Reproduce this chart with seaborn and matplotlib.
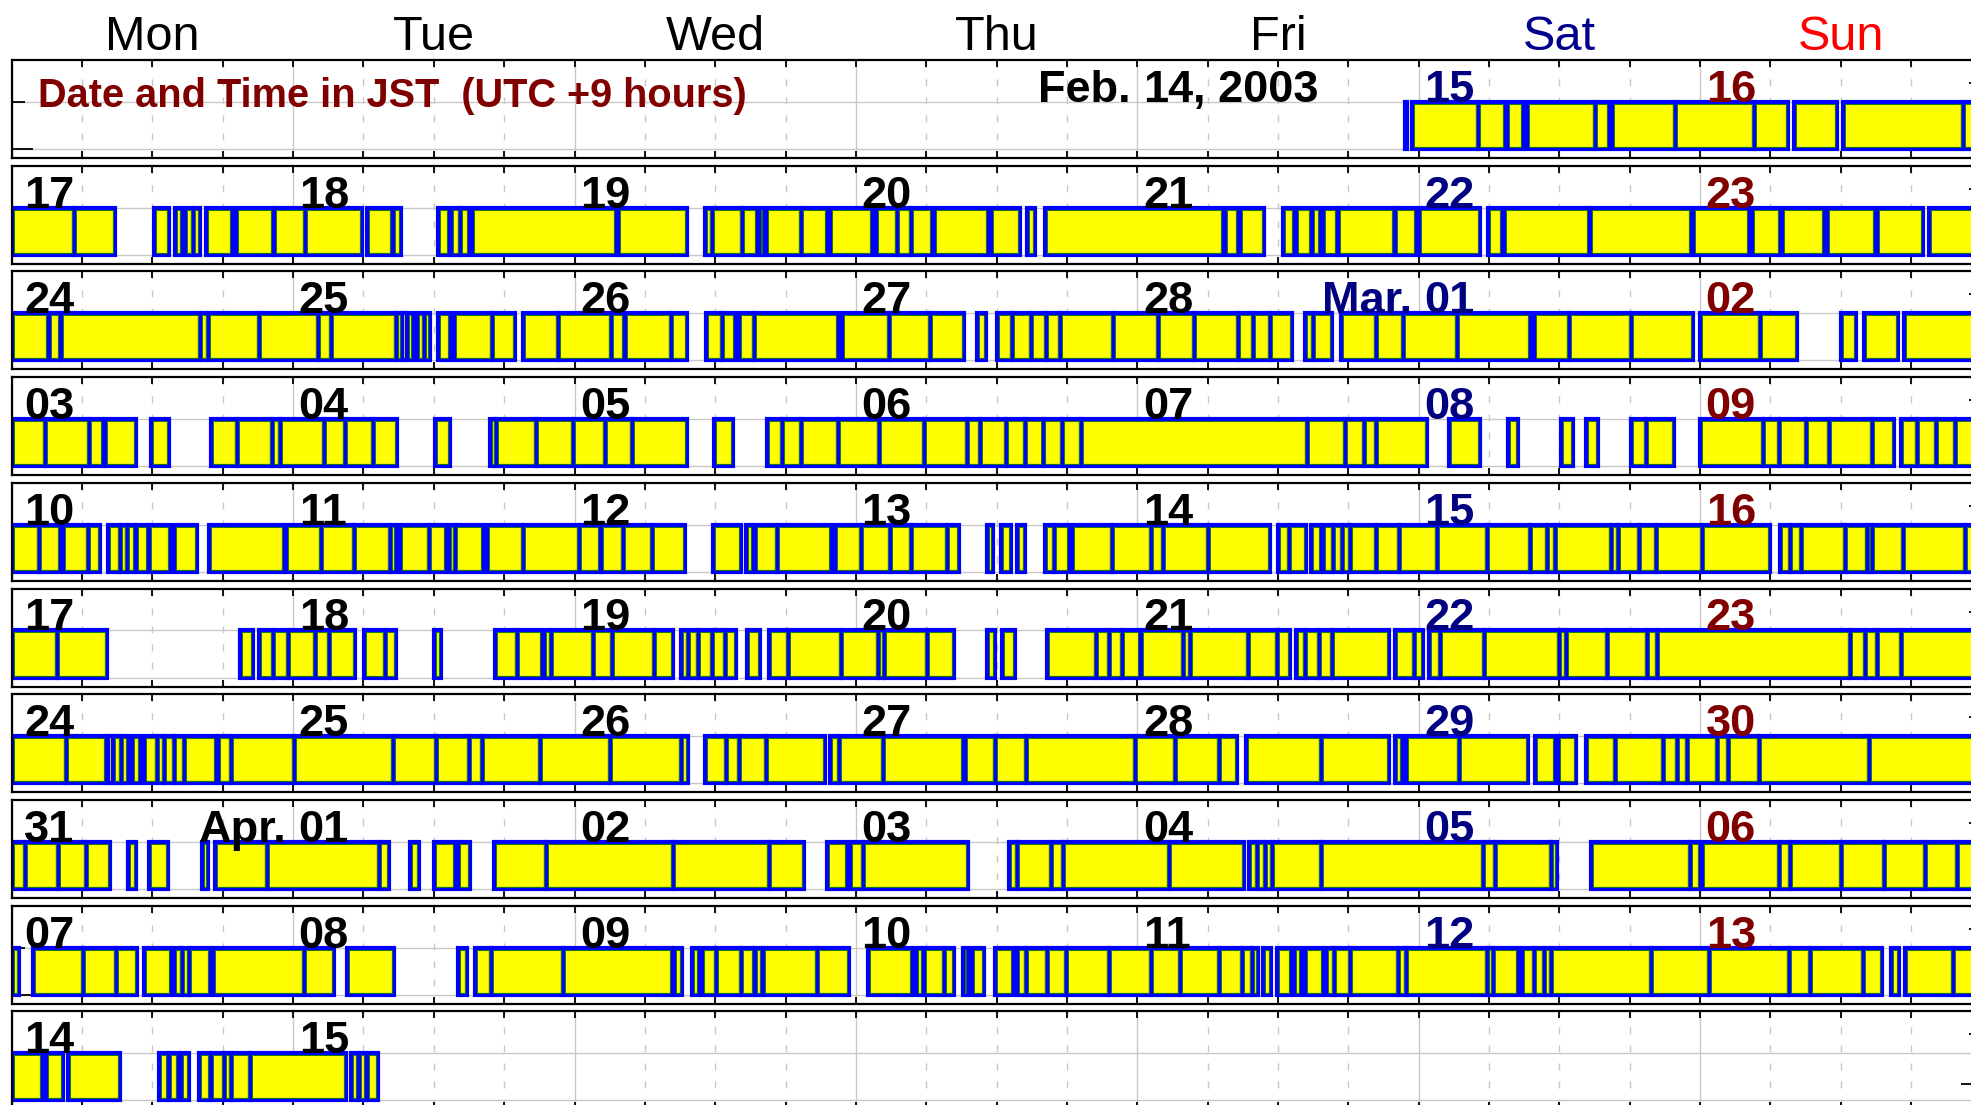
import numpy as np
import pandas as pd
import matplotlib
matplotlib.use("Agg")
import matplotlib.pyplot as plt
import seaborn as sns

# ---- calendar layout data -------------------------------------------------
week_starts = ["2003-02-10", "2003-02-17", "2003-02-24", "2003-03-03", "2003-03-10",
               "2003-03-17", "2003-03-24", "2003-03-31", "2003-04-07", "2003-04-14"]
first_day = "2003-02-14"
last_day = "2003-04-15"
day_names = ["Mon", "Tue", "Wed", "Thu", "Fri", "Sat", "Sun"]
day_name_colors = ["black", "black", "black", "black", "black", "#00008c", "#ff0000"]
day_number_colors = ["black", "black", "black", "black", "black", "#000080", "#800000"]
month_prefix = {2: "Feb.", 3: "Mar.", 4: "Apr."}
title_text = "Date and Time in JST  (UTC +9 hours)"

# ---- activity intervals: (start hour, end hour) counted from Monday 00:00 ----
week_0210 = [(118.85, 119.0), (119.4, 125.1), (125.1, 127.4), (127.5, 128.9), (129.2, 135.0),
             (135.0, 136.2), (136.5, 141.9), (141.9, 148.6), (148.6, 151.5), (152.0, 155.7),
             (156.2, 166.4), (166.4, 168.0)]
week_0217 = [(0.0, 5.3), (5.3, 8.8), (12.1, 13.4), (13.9, 14.5), (14.8, 15.5), (15.5, 16.1),
             (16.6, 18.8), (19.1, 22.3), (22.4, 25.0), (25.0, 29.9), (30.3, 32.4), (32.5, 33.2),
             (36.4, 37.3), (37.5, 38.2), (38.2, 39.0), (39.3, 51.5), (51.7, 57.6),
             (59.1, 59.7), (59.7, 62.3), (62.3, 63.6), (63.7, 64.2), (64.3, 67.3), (67.3, 69.5),
             (69.8, 73.4), (73.7, 75.5), (75.5, 76.7), (76.7, 78.5), (78.7, 83.3), (83.5, 86.0),
             (86.6, 87.3), (88.1, 103.3), (103.5, 104.6), (104.8, 106.8), (108.4, 109.4),
             (109.5, 110.8), (110.9, 111.6), (111.8, 113.0), (113.1, 117.9), (118.0, 119.8),
             (120.0, 125.2), (125.9, 127.1), (127.3, 134.5), (134.6, 143.2), (143.4, 148.2),
             (148.4, 150.8), (151.0, 154.6), (154.8, 158.9), (159.1, 163.0), (163.5, 168.0)]
week_0224 = [(0.0, 3.1), (3.2, 4.1), (4.2, 16.1), (16.1, 16.7), (16.7, 21.1), (21.1, 26.1),
             (26.1, 27.2), (27.2, 32.8), (32.8, 33.3), (33.3, 33.7), (33.7, 34.2), (34.6, 35.2),
             (35.2, 35.7), (36.4, 37.4), (37.7, 41.0), (41.0, 42.9), (43.6, 46.6), (46.6, 51.1),
             (51.1, 52.2), (52.3, 56.2), (56.2, 57.6), (59.2, 60.6), (60.6, 61.7), (62.0, 63.3),
             (63.3, 70.5), (70.8, 74.8), (74.8, 78.3), (78.3, 81.2), (82.3, 83.1), (84.0, 85.3),
             (85.3, 86.9), (86.9, 88.2), (88.2, 89.4), (89.4, 93.9), (93.9, 97.8), (97.8, 100.8),
             (100.8, 104.6), (104.6, 105.9), (105.9, 107.3), (107.3, 109.2), (110.3, 111.0),
             (111.0, 112.6), (113.4, 116.4), (116.4, 118.7), (118.7, 123.3), (123.3, 129.5),
             (129.8, 132.8), (132.8, 138.1), (138.1, 143.4), (144.0, 149.1), (149.1, 152.3),
             (156.0, 157.3), (158.0, 160.9), (161.4, 168.0)]
week_0303 = [(0.0, 2.8), (2.8, 6.6), (6.6, 7.8), (8.0, 10.6), (11.9, 13.4), (17.0, 19.2),
             (19.2, 22.2), (22.2, 22.9), (22.9, 26.6), (26.6, 28.4), (28.4, 30.8), (30.8, 32.9),
             (36.1, 37.4), (40.8, 41.3), (41.3, 44.7), (44.7, 47.9), (47.9, 50.6), (50.6, 52.9),
             (52.9, 57.6), (59.9, 61.5), (64.4, 65.7), (65.7, 67.3), (67.3, 70.5), (70.5, 74.0),
             (74.0, 77.8), (77.8, 81.5), (81.5, 82.6), (82.6, 84.8), (84.8, 86.4), (86.4, 88.0),
             (88.0, 89.6), (89.6, 91.2), (91.2, 110.5), (110.5, 113.7), (113.7, 115.3),
             (115.3, 116.4), (116.4, 120.7), (122.6, 125.2), (127.6, 128.5), (132.1, 133.2),
             (134.3, 135.3), (138.1, 139.4), (139.4, 141.8), (144.0, 149.4), (149.4, 150.7),
             (150.7, 153.0), (153.0, 155.0), (155.0, 158.7), (158.7, 160.5), (161.1, 162.5),
             (162.5, 164.1), (164.1, 165.7), (165.7, 168.0)]
week_0310 = [(0.0, 2.3), (2.3, 4.1), (4.4, 6.5), (6.5, 7.55), (8.2, 9.2), (9.2, 9.8),
             (9.8, 10.5), (10.6, 11.6), (11.7, 13.5), (13.8, 15.8), (16.8, 23.2), (23.4, 26.4),
             (26.4, 29.2), (29.2, 32.3), (32.3, 32.8), (33.1, 35.6), (35.6, 37.05), (37.3, 37.8),
             (37.8, 40.2), (40.5, 43.6), (43.6, 48.4), (48.4, 50.2), (50.3, 52.1), (52.1, 54.6),
             (54.6, 57.45), (59.8, 62.2), (62.6, 63.2), (63.4, 65.3), (65.3, 69.9), (70.2, 72.4),
             (72.4, 74.9), (74.9, 76.7), (76.7, 79.8), (79.8, 80.8), (83.2, 83.7), (84.4, 85.2),
             (85.7, 86.4), (88.1, 88.9), (88.9, 90.2), (90.4, 93.8), (93.8, 97.2), (97.2, 98.2),
             (98.2, 102.0), (102.0, 107.3), (108.0, 108.9), (108.9, 110.4), (110.8, 111.7),
             (111.8, 112.7), (112.7, 113.5), (113.5, 114.1), (114.1, 116.4), (116.4, 118.3),
             (118.3, 121.6), (121.6, 125.8), (125.8, 129.5), (129.5, 130.9), (130.9, 131.6),
             (131.6, 136.4), (136.4, 137.0), (137.0, 138.8), (138.8, 140.2), (140.2, 144.2),
             (144.2, 150.0), (150.8, 151.7), (151.7, 152.6), (152.6, 156.4), (156.4, 158.2),
             (158.2, 158.7), (158.7, 161.3), (161.3, 166.6), (166.6, 168.0)]
week_0317 = [(0.0, 3.85), (3.85, 8.15), (19.5, 20.6), (21.1, 22.3), (22.3, 23.6), (23.6, 25.9),
             (25.9, 27.1), (27.1, 29.3), (30.05, 31.85), (31.85, 32.8), (36.0, 36.6), (41.2, 43.1),
             (43.1, 45.2), (45.4, 46.0), (46.0, 49.6), (49.6, 51.2), (51.2, 54.8), (54.8, 56.4),
             (57.1, 57.7), (57.7, 58.5), (58.5, 59.7), (59.7, 60.8), (60.8, 61.8), (62.7, 63.8),
             (64.6, 66.2), (66.2, 70.7), (70.7, 73.9), (73.9, 74.4), (74.4, 78.1), (78.1, 80.4),
             (83.2, 83.9), (84.5, 85.6), (88.3, 92.5), (92.5, 93.6), (93.6, 94.7), (94.7, 96.2),
             (96.3, 99.9), (99.9, 100.5), (100.5, 105.4), (105.4, 107.9), (107.9, 109.0),
             (109.5, 110.3), (110.3, 111.5), (111.5, 112.6), (112.6, 117.5), (118.0, 119.6),
             (119.6, 120.4), (120.9, 121.8), (121.8, 125.6), (125.6, 132.0), (132.0, 132.6),
             (132.6, 136.1), (136.1, 139.5), (139.5, 140.3), (140.3, 156.8), (156.8, 158.1),
             (158.1, 159.1), (159.1, 161.1), (161.1, 168.0)]
week_0324 = [(0.0, 4.6), (4.6, 8.0), (8.2, 8.6), (8.6, 9.3), (9.3, 9.9), (10.3, 10.9),
             (11.3, 12.4), (12.4, 13.0), (13.0, 13.8), (13.8, 14.7), (14.7, 17.4), (17.6, 18.7),
             (18.7, 24.1), (24.1, 32.5), (32.5, 36.2), (36.2, 39.0), (39.0, 40.1), (40.1, 45.1),
             (45.1, 51.0), (51.0, 57.1), (57.1, 57.7), (59.1, 60.9), (60.9, 62.0), (62.0, 64.3),
             (64.3, 69.4), (69.8, 70.6), (70.6, 74.3), (74.3, 81.1), (81.3, 83.9), (83.9, 86.5),
             (86.5, 95.8), (95.8, 99.2), (99.2, 103.0), (103.0, 104.5), (105.3, 111.7),
             (111.7, 117.5), (118.0, 118.6), (118.9, 123.4), (123.4, 129.3), (129.9, 131.6),
             (131.9, 133.4), (134.3, 136.7), (136.7, 140.8), (140.8, 142.0), (142.0, 142.9),
             (142.9, 145.4), (145.4, 146.4), (146.4, 149.0), (149.0, 158.4), (158.4, 168.0)]
week_0331 = [(0.0, 1.1), (1.1, 3.95), (3.95, 6.36), (6.36, 8.4), (9.95, 10.56), (11.75, 13.3),
             (16.2, 16.7), (17.3, 21.8), (21.8, 31.3), (31.3, 32.2), (34.0, 34.7), (36.0, 37.8),
             (38.1, 39.1), (41.1, 45.6), (45.6, 56.4), (56.4, 64.6), (64.6, 67.6), (69.5, 71.2),
             (71.5, 72.6), (72.6, 81.6), (85.1, 85.7), (85.7, 88.6), (88.6, 89.7), (89.7, 98.7),
             (98.7, 105.1), (105.5, 106.2), (106.2, 106.9), (106.9, 107.5), (107.5, 111.7),
             (111.7, 125.5), (125.5, 126.5), (126.5, 131.3), (131.3, 131.8), (134.7, 143.1),
             (143.1, 144.0), (144.2, 150.7), (150.7, 151.7), (151.7, 156.0), (156.0, 159.7),
             (159.7, 163.2), (163.2, 165.9), (165.9, 168.0)]
week_0407 = [(0.0, 0.6), (1.8, 6.1), (6.1, 8.9), (8.9, 10.7), (11.3, 13.6), (13.8, 14.5),
             (14.5, 15.1), (15.1, 16.9), (17.2, 24.9), (24.9, 27.5), (28.6, 32.6), (38.1, 38.8),
             (39.5, 40.9), (40.9, 47.0), (47.0, 56.3), (56.5, 57.2), (58.0, 58.6), (58.9, 60.1),
             (60.1, 62.2), (62.2, 63.3), (63.4, 64.0), (64.1, 68.7), (68.7, 71.4), (73.0, 76.8),
             (77.1, 77.7), (77.8, 79.5), (79.5, 80.4), (81.1, 81.6), (81.9, 82.9), (83.9, 85.4),
             (85.7, 86.5), (86.5, 88.3), (88.3, 89.9), (89.9, 93.6), (93.6, 97.2), (97.2, 99.6),
             (99.6, 103.0), (103.0, 104.9), (104.9, 105.8), (105.8, 106.3), (106.7, 107.4),
             (107.9, 109.1), (109.4, 110.0), (110.3, 111.8), (112.1, 112.8), (112.8, 114.1),
             (114.1, 118.2), (118.2, 118.9), (118.9, 125.8), (125.8, 126.3), (126.3, 128.5),
             (128.8, 129.8), (129.8, 130.7), (130.7, 131.3), (131.3, 139.8), (139.8, 144.8),
             (144.8, 151.6), (151.6, 153.4), (153.4, 157.9), (157.9, 159.5), (160.3, 161.0),
             (161.5, 165.6), (165.6, 168.0)]
week_0414 = [(0.0, 2.6), (2.9, 4.4), (4.8, 9.2), (12.6, 13.3), (13.4, 14.2), (14.4, 15.1),
             (16.0, 16.9), (17.0, 18.1), (18.1, 18.7), (18.7, 20.3), (20.3, 28.5), (28.9, 29.5),
             (29.6, 30.2), (30.3, 31.2)]

weeks = [week_0210, week_0217, week_0224, week_0303, week_0310,
         week_0317, week_0324, week_0331, week_0407, week_0414]

# ---- style ----------------------------------------------------------------
sns.set_theme(style="white")
plt.rcParams["font.family"] = ["Liberation Sans", "DejaVu Sans"]

W, H = 1971, 1105
fig = plt.figure(figsize=(W / 100, H / 100), dpi=100)
fig.patch.set_facecolor("white")

left_px, day_px = 11.7, 281.4
top0, pitch, panel_h = 60.0, 105.7, 98.0
ylim = (-0.19, 1.89)
edge_px = 2.0                        # inset of the inner green outline
inset_x = edge_px / day_px            # in days
inset_y = edge_px / 47.0              # in data units (47 px per unit)

grid_c = "#c8c8c8"
axes_list = []
for i, (wk, segs) in enumerate(zip(week_starts, weeks)):
    top = top0 + i * pitch
    ax = fig.add_axes([left_px / W, 1 - (top + panel_h) / H, 7 * day_px / W, panel_h / H])
    axes_list.append(ax)
    ax.set_xlim(0, 7)
    ax.set_ylim(*ylim)
    ax.set_axisbelow(True)
    ax.patch.set_visible(False)

    # ticks and grid
    ax.set_xticks(np.arange(0, 8, 1))
    ax.set_xticks(np.arange(0, 7.01, 0.25), minor=True)
    ax.set_yticks([0])
    ax.set_yticks([1], minor=True)
    ax.tick_params(axis="x", which="both", direction="in", top=True, bottom=True,
                   labelbottom=False, length=5, width=1.3, color="black")
    ax.tick_params(axis="y", which="major", direction="in", left=True, right=False,
                   labelleft=False, length=15, width=1.3, color="black")
    ax.tick_params(axis="y", which="minor", direction="in", left=True, right=False,
                   labelleft=False, length=9.5, width=1.3, color="black")
    ax.xaxis.grid(True, which="major", color=grid_c, lw=1.0, ls="-")
    ax.xaxis.grid(True, which="minor", color=grid_c, lw=1.0, ls=(0, (5, 8)))
    ax.yaxis.grid(True, which="both", color=grid_c, lw=1.0, ls="-")
    for s in ax.spines.values():
        s.set_color("black")
        s.set_linewidth(1.6)

    # right side marks sit beneath the bars
    ax2 = ax.twinx()
    ax2.set_ylim(*ylim)
    ax2.set_yticks([0.34])
    ax2.set_yticks([1.4], minor=True)
    ax2.tick_params(axis="y", which="major", direction="in", length=15, width=1.3,
                    labelright=False, color="black")
    ax2.tick_params(axis="y", which="minor", direction="in", length=9.5, width=1.3,
                    labelright=False, color="black")
    for s in ax2.spines.values():
        s.set_visible(False)
    ax2.set_zorder(ax.get_zorder() - 1)

    # activity bars
    df = pd.DataFrame(segs, columns=["start", "end"])
    df["x"] = df["start"] / 24.0
    df["w"] = (df["end"] - df["start"]) / 24.0
    ax.bar(df["x"], 1.0, width=df["w"], bottom=0.0, align="edge",
           color="#ffff00", edgecolor="#0000ff", linewidth=3.0, zorder=2)
    wide = df[df["w"] > 2.5 * inset_x]
    ax.bar(wide["x"] + inset_x, 1.0 - 2 * inset_y, width=wide["w"] - 2 * inset_x,
           bottom=inset_y, align="edge", fill=False, edgecolor="#117711",
           linewidth=0.7, zorder=3)

    # day-of-month labels
    start = pd.Timestamp(wk)
    for d in range(7):
        date = start + pd.Timedelta(days=d)
        if date < pd.Timestamp(first_day) or date > pd.Timestamp(last_day):
            continue
        off = 0.045 if d == 0 else 0.02
        col = day_number_colors[d]
        num = ax.text(d + off, 1.0, f"{date.day:02d}", fontsize=32.5, fontweight="bold",
                      color=col, ha="left", va="baseline", zorder=5)
        if date == pd.Timestamp(first_day) or date.day == 1:
            ax.annotate(month_prefix[date.month], xy=(0, 0), xycoords=num,
                        xytext=(-9, 0), textcoords="offset points",
                        fontsize=32.5, fontweight="bold", color=col,
                        ha="right", va="bottom", zorder=5)
        if date == pd.Timestamp(first_day):
            ax.annotate(f", {date.year}", xy=(1, 0), xycoords=num,
                        fontsize=32.5, fontweight="bold", color=col,
                        ha="left", va="bottom", zorder=5)

# header row of weekday names
for d, (name, col) in enumerate(zip(day_names, day_name_colors)):
    fig.text((left_px + (d + 0.5) * day_px) / W, 1 - 50 / H, name, fontsize=35,
             color=col, ha="center", va="baseline")

axes_list[0].text(0.093, 0.894, title_text, fontsize=28.6, fontweight="bold",
                  color="#800000", ha="left", va="baseline", zorder=5)

fig.savefig("out.png", dpi=100, facecolor="white")
